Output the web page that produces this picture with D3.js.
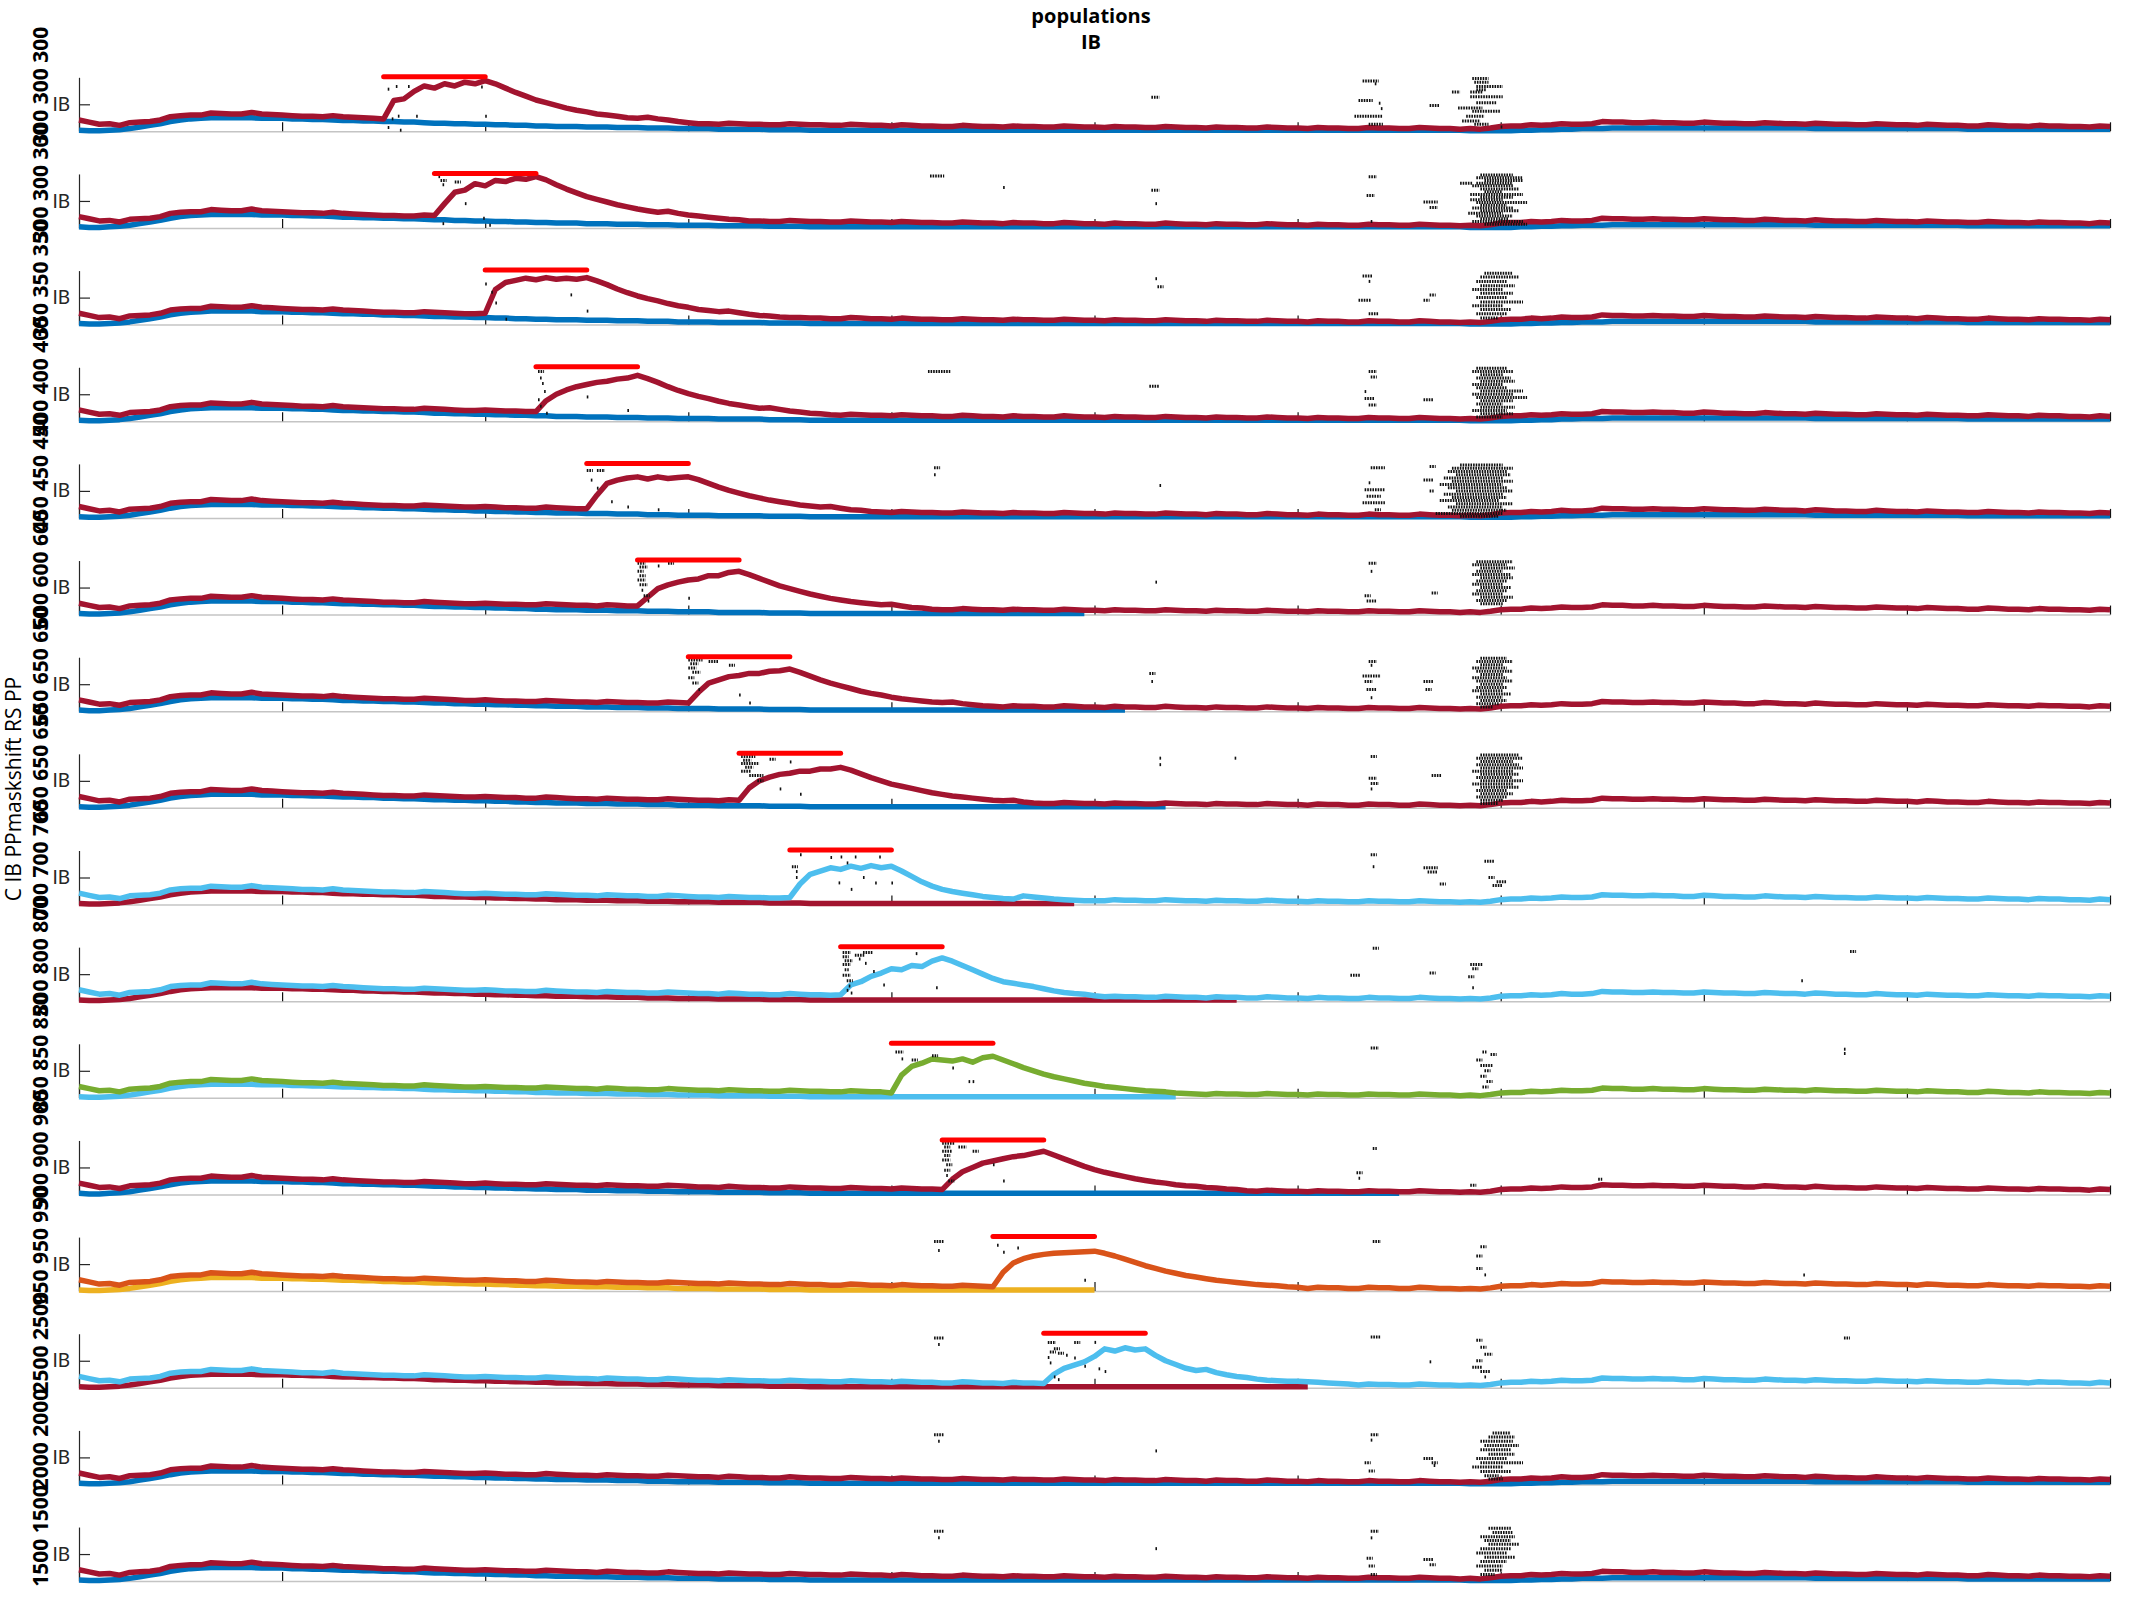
<!DOCTYPE html>
<html><head><meta charset="utf-8">
<script src="https://cdn.jsdelivr.net/npm/d3@7"></script>
<style>body{margin:0;background:#fff}svg{display:block}</style>
</head><body>
<script>
// ---------------- DATA ----------------
// sample spacing of the line series (x units, 0..10)
const xStep = 0.05;
// main population, common course (no stimulus), x = 0,0.05,...,10
const mainBase = [
21,17,13,14,11,16,17,18,21,27,29,30,30,34,33,32,32,35,32,31,
30,29,28,28,27,29,27,26,25,24,23,23,22,22,24,23,22,21,20,20,
21,20,19,19,18,18,20,19,18,17,17,16,18,17,16,16,15,15,17,16,
15,14,14,13,15,14,13,13,12,12,14,13,12,12,11,11,13,12,11,11,
10,12,11,10,10,9,9,11,10,9,9,8,10,9,9,8,8,10,9,8,
8,7,9,8,8,7,7,9,8,7,7,6,8,7,7,6,6,8,7,6,
6,5,7,6,6,5,5,7,6,6,5,5,7,6,5,5,4,5,4,6,
9,10,10,12,11,12,14,13,13,14,18,17,17,16,16,17,16,16,15,15,
17,16,15,15,14,14,16,15,14,14,13,15,14,13,13,12,12,14,13,12,
12,11,13,12,11,11,10,10,12,11,10,10,9,11,10,10,9,9,8,10,
9];
// second population, common course
const secBase = [
2,1,1,2,3,5,8,11,14,18,21,23,24,25,25,25,25,25,24,24,
24,23,23,22,22,21,20,20,19,19,18,18,17,17,16,15,15,14,14,13,
13,12,12,11,11,10,10,9,9,9,8,8,8,7,7,7,6,6,6,5,
5,5,5,4,4,4,4,4,3,3,3,3,2,2,2,2,2,2,2,2,
2,2,2,2,2,2,2,2,2,2,2,2,2,2,2,2,2,2,2,2,
2,2,2,2,2,2,2,2,2,2,2,2,2,2,2,2,2,2,2,2,
2,2,2,2,2,2,2,2,2,2,2,2,2,2,2,2,2,1,1,1,
1,1,2,2,3,3,4,4,5,5,5,6,6,6,6,6,6,6,6,6,
6,6,6,6,6,6,6,6,6,6,6,5,5,5,5,5,5,5,5,5,
5,5,5,5,5,5,4,4,4,4,4,4,4,4,4,4,4,4,4,4,
4];
// stimulus onset per panel (stimulus lasts 0.5)
const onsets = [1.5,1.75,2.0,2.25,2.5,2.75,3.0,3.25,3.5,3.75,4.0,4.25,4.5,4.75,null,null];
const stimDur = 0.5;
// evoked response of main population, from onset, step 0.05
const bump01 = [23,57,60,74,84,80,88,84,91,88,94, 88,80,72,65,58,53,48,43,39,36,32,30,28,25,24,26,23,21,18,16];
const bump02 = [23,45,66,70,82,78,88,86,92,90,95, 89,80,72,65,58,53,48,43,39,35,32,29,31,27,24,22,20,18,16,15];
const bump03 = [21,65,78,82,86,83,87,84,86,84,87, 81,74,66,59,53,48,44,39,35,32,28,26,24,25,22,19,17,16,14,13];
const bump04 = [18,38,50,58,64,68,72,74,78,80,85, 79,72,64,57,51,46,42,37,33,30,27,24,25,22,19,17,15,14,12,11];
const bump05 = [17,42,64,70,74,76,72,76,73,75,76, 71,64,57,51,46,41,37,33,30,27,24,22,20,21,18,15,14,12,11,10];
const bump06 = [16,32,48,55,60,64,66,72,72,78,80, 74,67,60,53,48,43,38,34,30,27,24,22,20,18,19,16,13,12,10,9];
const bump07 = [15,35,52,58,64,66,70,70,74,75,78, 72,65,58,52,47,42,37,33,30,26,23,21,19,17,16,17,14,12,10,9];
const bump08 = [14,37,50,57,62,64,68,68,72,72,75, 70,63,56,50,44,40,36,32,28,25,22,20,18,16,14,13,14,11,9,8];
const bump09 = [13,38,56,62,68,65,71,67,72,68,71, 62,52,42,34,28,24,21,18,15,13,11,10,16,14,12,10,9,8,7,7];
const bump10 = [12,30,36,46,52,60,58,66,64,74,80, 74,66,58,50,42,36,33,30,27,23,19,16,14,13,10,8,9,8,8,7];
const bump11 = [9,42,58,64,72,70,68,72,66,74,77, 70,63,56,50,44,39,35,31,27,24,21,19,17,15,13,12,11,9,8,7];
const bump12 = [9,28,42,50,58,62,66,70,72,76,80, 73,66,59,52,46,41,37,33,29,26,23,21,18,16,15,13,12,10,9,7];
const bump13 = [8,35,52,60,65,68,70,71,72,73,74, 70,65,59,53,47,42,37,33,29,26,23,20,18,16,14,12,11,10,8,7];
const bump14 = [8,25,36,42,48,58,72,68,74,70,72, 60,50,43,36,32,34,28,24,21,19,16,14,13,12,12,11,10,9,8,7];
const bumps = [bump01,bump02,bump03,bump04,bump05,bump06,bump07,bump08,bump09,bump10,bump11,bump12,bump13,bump14,null,null];
// where the second population trace stops
const secEnd = [10,10,10,10,10,4.97,5.19,5.35,4.94,5.71,5.41,6.51,5.01,6.08,10,10];
const mainColors = ["#A2142F","#A2142F","#A2142F","#A2142F","#A2142F","#A2142F","#A2142F","#A2142F","#4DBEEE","#4DBEEE","#77AC30","#A2142F","#D95319","#4DBEEE","#A2142F","#A2142F"];
const secColors  = ["#0072BD","#0072BD","#0072BD","#0072BD","#0072BD","#0072BD","#0072BD","#0072BD","#A2142F","#A2142F","#4DBEEE","#0072BD","#EDB120","#A2142F","#0072BD","#0072BD"];
const yLabelNums = ["300","300","350","400","450","600","650","650","700","800","850","900","950","2500","2000","1500"];
const xTicks = [0,1,2,3,4,5,6,7,8,9,10];
const yTickValue = 50, yTickText = "IB";
const titleLines = ["populations","IB"];
const sideLabel = "C IB PPmaskshift RS PP";
// raster runs per panel: [x start, x end, height %]
const spikesP01 = [[1.52,1.52,78],[1.56,1.56,83],[1.62,1.62,83],[1.98,1.98,82],[1.54,1.54,23],[1.57,1.57,28],[1.66,1.66,28],[2.0,2.0,28],[1.52,1.52,7],[1.58,1.58,2],
 [5.28,5.31,63],[6.32,6.39,93],[6.38,6.38,88],[6.30,6.36,57],[6.40,6.40,52],[6.41,6.41,42],[6.28,6.41,28],[6.35,6.41,13],[6.65,6.69,48],[6.76,6.79,73],
 [6.86,6.93,98],[6.87,6.93,91],[6.88,7.0,83],[6.88,6.92,77],[6.85,6.9,73],[6.85,7.0,64],[6.88,6.97,53],[6.79,6.9,43],[6.86,6.99,37],[6.83,6.91,28],[6.81,6.89,19],[6.87,6.93,13],[7.0,7.0,8]];
const spikesP02 = [[1.77,1.77,95],[1.78,1.8,88],[1.79,1.79,80],[1.85,1.87,85],[1.9,1.9,45],[1.79,1.79,8],[1.99,1.99,18],[2.02,2.02,5],
 [4.19,4.25,96],[4.55,4.55,75],[5.28,5.31,70],[5.3,5.3,45],[6.35,6.38,95],[6.34,6.37,60],[6.36,6.36,12],[6.62,6.68,48],[6.65,6.68,38],
 [6.9,7.05,98],[6.88,7.1,93],[6.92,7.1,88],[6.8,6.85,83],[6.88,7.05,83],[6.86,7.05,78],[6.9,7.08,72],[6.92,7.0,67],[6.85,7.1,62],[6.9,7.05,57],[6.85,7.0,52],[6.88,7.12,47],[6.9,7.02,42],[6.86,7.05,37],[6.9,7.08,32],[6.84,7.0,27],[6.88,7.05,22],[6.9,7.03,17],[6.86,7.1,12],[6.92,7.12,7]];
const spikesP03 = [[2.0,2.0,75],[2.03,2.03,60],[2.05,2.05,40],[2.42,2.42,55],[2.5,2.5,25],[2.1,2.1,10],
 [5.3,5.3,85],[5.31,5.33,70],[6.32,6.36,90],[6.35,6.35,80],[6.3,6.35,45],[6.35,6.39,20],[6.62,6.64,45],[6.65,6.67,55],
 [6.92,7.05,95],[6.9,7.08,88],[6.88,7.02,80],[6.9,7.06,72],[6.86,7.0,65],[6.9,7.05,58],[6.88,7.02,50],[6.9,7.1,42],[6.86,7.0,35],[6.9,7.04,28],[6.88,7.02,20],[6.9,6.98,12]];
const spikesP04 = [[2.26,2.28,92],[2.27,2.27,80],[2.28,2.28,70],[2.29,2.29,55],[2.26,2.26,40],[2.27,2.27,28],[2.3,2.3,15],[2.5,2.5,45],[2.7,2.7,20],
 [4.18,4.28,92],[5.27,5.31,65],[6.35,6.38,92],[6.36,6.38,82],[6.33,6.33,55],[6.33,6.37,42],[6.35,6.38,30],[6.62,6.66,40],
 [6.88,7.02,98],[6.86,7.05,92],[6.9,7.0,86],[6.88,7.04,80],[6.9,7.06,74],[6.86,7.0,68],[6.88,7.02,62],[6.9,7.1,56],[6.86,7.05,50],[6.88,7.12,44],[6.9,7.05,38],[6.88,7.0,32],[6.9,7.06,26],[6.86,7.02,20],[6.9,7.05,14],[6.88,7.0,8]];
const spikesP05 = [[2.5,2.52,88],[2.55,2.58,88],[2.52,2.52,70],[2.55,2.55,55],[2.62,2.62,30],[2.7,2.7,20],[2.85,2.85,15],
 [4.21,4.23,93],[4.21,4.21,80],[5.32,5.32,60],[6.36,6.42,93],[6.35,6.35,65],[6.33,6.42,52],[6.34,6.4,40],[6.32,6.42,28],[6.38,6.4,15],[6.65,6.67,95],[6.62,6.66,70],[6.65,6.66,50],
 [6.8,7.0,98],[6.76,7.05,92],[6.74,7.02,86],[6.78,7.04,80],[6.72,7.0,74],[6.76,7.05,68],[6.7,7.0,62],[6.74,7.02,56],[6.78,7.05,50],[6.72,7.0,44],[6.76,7.02,38],[6.7,6.98,32],[6.78,7.05,26],[6.74,7.0,20],[6.76,7.02,14],[6.68,7.0,8],[6.8,6.98,3]];
const spikesP06 = [[2.75,2.78,95],[2.76,2.79,88],[2.75,2.77,80],[2.76,2.78,72],[2.75,2.78,64],[2.76,2.79,55],[2.77,2.77,45],[2.78,2.8,35],[2.8,2.8,25],[2.85,2.85,90],[2.9,2.92,95],[3.0,3.0,30],
 [5.3,5.3,60],[6.35,6.38,95],[6.36,6.36,80],[6.33,6.35,35],[6.34,6.38,25],[6.66,6.68,40],
 [6.88,7.05,98],[6.86,7.02,92],[6.9,7.06,86],[6.88,7.0,80],[6.86,7.04,74],[6.9,7.05,68],[6.88,7.02,62],[6.86,7.0,56],[6.9,7.04,50],[6.88,7.02,44],[6.86,7.0,38],[6.9,7.05,32],[6.88,7.02,26],[6.9,7.0,20]];
const spikesP07 = [[3.0,3.06,95],[3.01,3.04,88],[3.0,3.03,80],[3.02,3.05,72],[3.0,3.02,62],[3.02,3.04,52],[3.05,3.05,40],[3.1,3.14,92],[3.2,3.22,85],[3.3,3.3,15],[3.25,3.25,30],
 [5.27,5.29,70],[5.28,5.28,55],[6.32,6.4,65],[6.33,6.36,55],[6.34,6.38,40],[6.36,6.36,25],[6.35,6.38,92],[6.36,6.36,85],[6.62,6.66,55],[6.63,6.65,40],
 [6.9,7.02,98],[6.88,7.05,92],[6.9,7.0,86],[6.86,7.02,80],[6.88,7.05,74],[6.9,7.0,68],[6.86,7.02,62],[6.88,7.05,56],[6.9,7.0,50],[6.88,7.02,44],[6.86,7.0,38],[6.9,7.04,32],[6.88,7.0,26],[6.9,7.02,20],[6.88,6.98,14],[6.9,6.95,8]];
const spikesP08 = [[3.26,3.32,95],[3.27,3.3,88],[3.26,3.34,82],[3.28,3.31,75],[3.26,3.3,68],[3.3,3.36,60],[3.34,3.36,50],[3.4,3.42,90],[3.5,3.5,85],[3.55,3.55,25],[3.45,3.45,35],
 [5.32,5.32,92],[5.32,5.32,80],[5.69,5.69,92],[6.36,6.38,95],[6.35,6.38,55],[6.36,6.39,45],[6.36,6.36,35],[6.66,6.7,60],
 [6.9,7.08,98],[6.88,7.1,92],[6.9,7.05,86],[6.88,7.08,80],[6.9,7.1,74],[6.86,7.05,68],[6.9,7.08,62],[6.88,7.05,56],[6.9,7.1,50],[6.86,7.05,44],[6.9,7.08,38],[6.88,7.02,32],[6.9,7.05,26],[6.88,7.02,20],[6.9,7.0,14],[6.9,6.98,8]];
const spikesP09 = [[3.55,3.55,92],[3.51,3.53,70],[3.53,3.53,61],[3.53,3.53,50],[3.7,3.7,87],[3.75,3.75,88],[3.82,3.82,88],[3.94,3.94,88],[3.78,3.78,77],[3.86,3.86,50],[3.74,3.74,40],[3.92,3.92,40],[4.0,4.0,40],[3.8,3.8,28],
 [6.36,6.38,92],[6.37,6.37,70],[6.62,6.68,68],[6.64,6.68,60],[6.7,6.72,38],[6.92,6.96,80],[6.94,6.96,50],[6.98,7.02,42],[6.96,7.0,35]];
const spikesP10 = [[3.76,3.79,90],[3.76,3.78,82],[3.77,3.8,75],[3.76,3.79,68],[3.77,3.78,58],[3.76,3.79,48],[3.78,3.8,38],[3.79,3.79,28],[3.82,3.86,85],[3.84,3.84,78],[3.86,3.9,90],[3.87,3.87,70],[3.91,3.91,55],[3.96,3.96,30],[4.12,4.12,88],[4.22,4.22,25],[3.78,3.78,20],[3.8,3.8,15],
 [6.37,6.39,98],[6.26,6.3,48],[6.65,6.67,52],[6.85,6.9,68],[6.86,6.88,60],[6.84,6.86,45],[6.86,6.86,25],[8.72,8.74,92],[8.48,8.48,38]];
const spikesP11 = [[4.02,4.05,85],[4.05,4.05,72],[4.1,4.12,70],[4.2,4.22,78],[4.3,4.3,55],[4.38,4.38,30],[4.4,4.4,30],
 [6.36,6.39,92],[6.91,6.92,85],[6.95,6.97,80],[6.88,6.9,70],[6.9,6.95,60],[6.92,6.94,50],[6.9,6.92,40],[6.93,6.95,30],[6.91,6.93,20],[8.69,8.69,90],[8.69,8.69,82]];
const spikesP12 = [[4.25,4.3,95],[4.26,4.28,88],[4.25,4.29,80],[4.26,4.28,72],[4.25,4.28,64],[4.27,4.29,55],[4.26,4.28,45],[4.27,4.27,35],[4.28,4.3,25],[4.33,4.36,88],[4.4,4.42,80],[4.5,4.5,55],[4.55,4.55,25],
 [6.37,6.38,85],[6.29,6.31,40],[6.3,6.3,30],[6.85,6.87,17],[7.48,7.49,28]];
const spikesP13 = [[4.21,4.25,92],[4.23,4.23,75],[4.52,4.52,85],[4.55,4.55,72],[4.62,4.62,80],[4.95,4.95,20],
 [6.37,6.4,92],[6.9,6.92,82],[6.88,6.9,65],[6.88,6.9,42],[6.92,6.92,30],[8.49,8.49,30]];
const spikesP14 = [[4.21,4.25,92],[4.23,4.23,80],[4.77,4.8,84],[4.78,4.8,66],[4.77,4.77,56],[4.78,4.78,46],[4.8,4.82,72],[4.82,4.84,64],[4.86,4.86,60],[4.9,4.9,55],[4.95,4.95,40],[4.8,4.8,20],[4.82,4.82,15],[5.02,5.02,35],[5.05,5.05,30],[5.0,5.0,84],[4.9,4.92,84],
 [6.36,6.4,94],[6.65,6.65,48],[6.88,6.9,88],[6.9,6.92,75],[6.92,6.95,62],[6.88,6.9,50],[6.86,6.9,38],[6.9,6.94,30],[6.92,6.92,20],[8.69,8.71,92]];
const spikesP15 = [[4.21,4.25,92],[4.23,4.23,80],[5.3,5.3,62],[6.36,6.39,92],[6.36,6.36,82],[6.33,6.35,40],[6.35,6.37,25],[6.62,6.66,48],[6.66,6.68,40],[6.67,6.67,35],
 [6.96,7.04,95],[6.94,7.06,88],[6.9,7.05,80],[6.92,7.08,72],[6.9,7.04,64],[6.94,7.06,56],[6.88,7.02,48],[6.9,7.1,40],[6.86,7.0,32],[6.9,7.04,24],[6.92,6.98,16],[6.94,7.0,10]];
const spikesP16 = [[4.21,4.25,92],[4.23,4.23,80],[5.3,5.3,60],[6.36,6.39,92],[6.36,6.36,80],[6.34,6.36,42],[6.35,6.37,28],[6.36,6.38,12],[6.62,6.66,40],[6.65,6.67,30],
 [6.94,7.04,98],[6.96,7.05,90],[6.9,7.06,82],[6.92,7.04,75],[6.94,7.08,68],[6.9,7.04,60],[6.88,7.02,52],[6.92,7.06,44],[6.9,7.02,36],[6.88,7.0,28],[6.92,7.0,20],[6.9,6.96,12]];
const spikes = [spikesP01,spikesP02,spikesP03,spikesP04,spikesP05,spikesP06,spikesP07,spikesP08,spikesP09,spikesP10,spikesP11,spikesP12,spikesP13,spikesP14,spikesP15,spikesP16];

// ---------------- LAYOUT ----------------
const W = 2133, H = 1600;
const left = 79, right = 2110;
const firstCenter = 104.3, spacing = 96.65, halfH = 27;
const svg = d3.select("body").append("svg").attr("width", W).attr("height", H);
const x = d3.scaleLinear().domain([0, 10]).range([left, right]);
const line = d3.line().x(d => x(d[0])).y(d => d[1]);

// title
svg.append("text").attr("x", 1091).attr("y", 23).attr("text-anchor", "middle")
  .style("font", "bold 20px 'Open Sans', sans-serif").attr("fill", "#000").text(titleLines[0]);
svg.append("text").attr("x", 1091).attr("y", 49).attr("text-anchor", "middle")
  .style("font", "bold 20px 'Open Sans', sans-serif").attr("fill", "#000").text(titleLines[1]);

onsets.forEach((onset, k) => {
  const cy = firstCenter + spacing * k;
  const y = d3.scaleLinear().domain([0, 100]).range([cy + halfH, cy - halfH]);
  const g = svg.append("g");

  // y label (overlapping bold numbers)
  const n = yLabelNums[k];
  const reps = n.length > 3 ? `${n} ${n}` : `${n} ${n} ${n}`;
  g.append("text").attr("transform", `translate(48,${cy - 18}) rotate(-90)`)
    .attr("text-anchor", "middle")
    .style("font", "bold 21px 'Open Sans', sans-serif").attr("fill", "#000")
    .text(reps);

  // x axis (light baseline, inward ticks)
  const xa = g.append("g").attr("transform", `translate(0,${y(0)})`)
    .call(d3.axisBottom(x).tickValues(xTicks).tickSizeInner(-9).tickSizeOuter(0).tickFormat(""));
  xa.select(".domain").attr("stroke", "#c4c4c4").attr("stroke-width", 1.5);
  xa.selectAll(".tick line").attr("stroke", "#111").attr("stroke-width", 1.2);

  // y axis
  const ya = g.append("g").attr("transform", `translate(${left},0)`)
    .call(d3.axisLeft(y).tickValues([yTickValue]).tickSizeInner(-11).tickSizeOuter(0).tickPadding(9).tickFormat(() => yTickText));
  ya.select(".domain").attr("stroke", "#262626").attr("stroke-width", 1.2);
  ya.selectAll(".tick line").attr("stroke", "#262626").attr("stroke-width", 1.2);
  ya.selectAll(".tick text").style("font", "19px Lato, sans-serif").attr("fill", "#262626");

  // series
  const bump = bumps[k];
  const mainPts = [], secPts = [];
  mainBase.forEach((v, i) => {
    const xv = +(i * xStep).toFixed(2);
    let val = v;
    if (onset !== null) {
      const j = Math.round((xv - onset) / xStep);
      if (j >= 0 && j < bump.length) val = bump[j];
    }
    mainPts.push([xv, y(val)]);
    if (xv <= secEnd[k] + 1e-9) secPts.push([xv, y(secBase[i])]);
  });
  g.append("path").attr("d", line(secPts)).attr("fill", "none")
    .attr("stroke", secColors[k]).attr("stroke-width", 5.5).attr("stroke-linejoin", "round");
  g.append("path").attr("d", line(mainPts)).attr("fill", "none")
    .attr("stroke", mainColors[k]).attr("stroke-width", 5.5).attr("stroke-linejoin", "round");

  // raster
  g.append("g").selectAll("line").data(spikes[k]).join("line")
    .attr("x1", d => x(d[0])).attr("x2", d => x(d[1]) + 2)
    .attr("y1", d => y(d[2])).attr("y2", d => y(d[2]))
    .attr("stroke", "#111").attr("stroke-width", 3).attr("stroke-dasharray", "1.6,1");

  // stimulus bar
  if (onset !== null) {
    g.append("line").attr("x1", x(onset)).attr("x2", x(onset + stimDur))
      .attr("y1", y(100) - 0.5).attr("y2", y(100) - 0.5)
      .attr("stroke", "#FF0000").attr("stroke-width", 5).attr("stroke-linecap", "round");
  }
});

// side label
svg.append("text").attr("transform", "translate(21,789) rotate(-90)").attr("text-anchor", "middle")
  .style("font", "21px 'Open Sans', sans-serif").attr("fill", "#000").text(sideLabel);
</script>
</body></html>
